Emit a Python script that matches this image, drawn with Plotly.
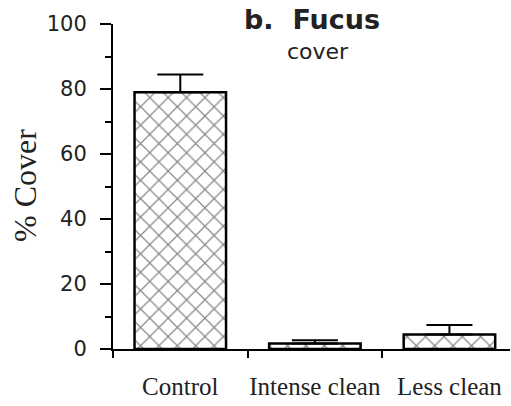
import plotly.graph_objects as go

categories = ["Control", "Intense clean", "Less clean"]
cover = [79.0, 1.7, 4.5]
se_up = [5.5, 1.0, 2.9]
y_ticks = [0, 20, 40, 60, 80, 100]

fig = go.Figure()
fig.add_trace(go.Bar(
    x=categories, y=cover, width=0.68,
    marker=dict(color="white", line=dict(color="black", width=2.5),
                pattern=dict(shape="x", fgcolor="#111111", bgcolor="white", size=13, solidity=0.18)),
    error_y=dict(type="data", array=se_up, arrayminus=[0, 0, 0], symmetric=False,
                 color="black", thickness=2, width=23),
))

fig.update_layout(
    width=511, height=406,
    margin=dict(l=113, r=1, t=24, b=57),
    plot_bgcolor="white", paper_bgcolor="white",
    showlegend=False,
    xaxis=dict(type="category", range=[-0.5, 2.45], tickson="boundaries",
               showline=True, linecolor="black", linewidth=2,
               ticks="outside", ticklen=7, tickwidth=2, tickcolor="black",
               ticklabelstandoff=14, tickangle=0, automargin=False,
               tickfont=dict(family="Liberation Serif", size=25, color="#222"),
               showgrid=False, zeroline=False),
    yaxis=dict(range=[0, 100], tickvals=y_ticks, ticktext=[str(v) for v in y_ticks],
               showline=True, linecolor="black", linewidth=2,
               ticks="outside", ticklen=11, tickwidth=2, tickcolor="black",
               ticklabelstandoff=9, automargin=False,
               minor=dict(dtick=10, ticks="outside", ticklen=6, tickwidth=2, tickcolor="black"),
               tickfont=dict(family="DejaVu Sans", size=21, color="#222"),
               showgrid=False, zeroline=False),
    annotations=[
        dict(text="b.  Fucus", x=312, y=406-20, xref="paper", yref="paper", showarrow=False,
             font=dict(family="DejaVu Sans", size=27, color="#222", weight="bold"),
             xanchor="center", yanchor="middle"),
        dict(text="cover", x=318, y=406-52, xref="paper", yref="paper", showarrow=False,
             font=dict(family="DejaVu Sans", size=22, color="#222"),
             xanchor="center", yanchor="middle"),
        dict(text="% Cover", x=25, y=406-186, xref="paper", yref="paper", showarrow=False,
             textangle=-90,
             font=dict(family="Liberation Serif", size=32, color="#222"),
             xanchor="center", yanchor="middle"),
    ],
)

# convert pixel positions of annotations to paper coords
pw = 511 - 113 - 1
ph = 406 - 24 - 57
for a in fig.layout.annotations:
    a.x = (a.x - 113) / pw
    a.y = (a.y - 57) / ph

fig.write_html("out.html")
